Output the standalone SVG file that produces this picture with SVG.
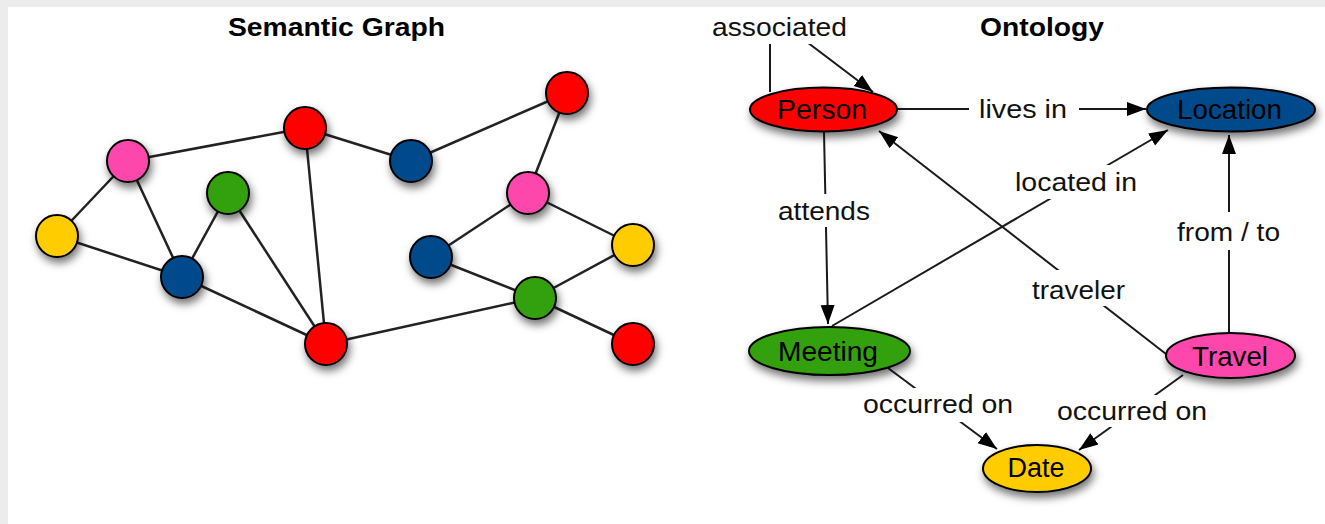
<svg xmlns="http://www.w3.org/2000/svg" width="1325" height="524" viewBox="0 0 1325 524">
<defs>
<filter id="sh" x="-50%" y="-50%" width="200%" height="200%">
<feDropShadow dx="2" dy="5" stdDeviation="4" flood-color="#000" flood-opacity="0.55"/>
</filter>
<marker id="ah" markerUnits="userSpaceOnUse" markerWidth="20" markerHeight="16" viewBox="0 0 20 16" refX="19" refY="8" orient="auto">
<path d="M0,1 L19,8 L0,15 Z" fill="#000"/>
</marker>
<style>
.e{stroke:#222;stroke-width:2.5;fill:none}
.c{stroke:#000;stroke-width:2;filter:url(#sh)}
.o{stroke:#1a1a1a;stroke-width:2;fill:none}
.a{marker-end:url(#ah)}
.t{font-family:"Liberation Sans",Arial,sans-serif;font-size:26px;fill:#111}
.n{font-family:"Liberation Sans",Arial,sans-serif;font-size:27px;fill:#000;text-anchor:middle}
.h{font-family:"Liberation Sans",Arial,sans-serif;font-size:25px;font-weight:bold;fill:#000}
.bg{fill:#fff}
</style>
</defs>
<rect x="0" y="0" width="1325" height="524" fill="#ececec"/>
<rect x="8" y="7" width="1317" height="517" fill="#fff"/>

<text class="h" x="228" y="36" textLength="217" lengthAdjust="spacingAndGlyphs">Semantic Graph</text>
<text class="h" x="980" y="36" textLength="124" lengthAdjust="spacingAndGlyphs">Ontology</text>

<!-- Semantic graph edges -->
<g id="graph-edges">
<line class="e" x1="128" y1="161" x2="57" y2="236"/>
<line class="e" x1="128" y1="161" x2="305" y2="128"/>
<line class="e" x1="128" y1="161" x2="182" y2="277"/>
<line class="e" x1="57" y1="236" x2="182" y2="277"/>
<line class="e" x1="228" y1="193" x2="182" y2="277"/>
<line class="e" x1="228" y1="193" x2="326" y2="344"/>
<line class="e" x1="182" y1="277" x2="326" y2="344"/>
<line class="e" x1="305" y1="128" x2="326" y2="344"/>
<line class="e" x1="305" y1="128" x2="411" y2="161"/>
<line class="e" x1="411" y1="161" x2="567" y2="93"/>
<line class="e" x1="567" y1="93" x2="528" y2="193"/>
<line class="e" x1="528" y1="193" x2="431" y2="257"/>
<line class="e" x1="528" y1="193" x2="633" y2="245"/>
<line class="e" x1="431" y1="257" x2="535" y2="298"/>
<line class="e" x1="633" y1="245" x2="535" y2="298"/>
<line class="e" x1="535" y1="298" x2="633" y2="344"/>
<line class="e" x1="535" y1="298" x2="326" y2="344"/>
</g>

<!-- Semantic graph nodes -->
<g id="g-pink1"><circle class="c" cx="128" cy="161" r="21" fill="#fe47ac"/></g>
<g id="g-yellow1"><circle class="c" cx="57" cy="236" r="21" fill="#ffcc00"/></g>
<g id="g-green1"><circle class="c" cx="228" cy="193" r="21" fill="#33a10f"/></g>
<g id="g-red1"><circle class="c" cx="305" cy="128" r="21" fill="#ff0000"/></g>
<g id="g-blue1"><circle class="c" cx="411" cy="161" r="21" fill="#03498a"/></g>
<g id="g-blue2"><circle class="c" cx="182" cy="277" r="21" fill="#03498a"/></g>
<g id="g-red2"><circle class="c" cx="326" cy="344" r="21" fill="#ff0000"/></g>
<g id="g-red3"><circle class="c" cx="567" cy="93" r="21" fill="#ff0000"/></g>
<g id="g-pink2"><circle class="c" cx="528" cy="193" r="21" fill="#fe47ac"/></g>
<g id="g-blue3"><circle class="c" cx="431" cy="257" r="21" fill="#03498a"/></g>
<g id="g-yellow2"><circle class="c" cx="633" cy="245" r="21" fill="#ffcc00"/></g>
<g id="g-green2"><circle class="c" cx="535" cy="298" r="21" fill="#33a10f"/></g>
<g id="g-red4"><circle class="c" cx="633" cy="344" r="21" fill="#ff0000"/></g>

<!-- Ontology connectors -->
<g id="connectors">
<path class="o a" d="M770,92 L770,28 L791,30 L873,92"/>
<line class="o a" x1="897" y1="109" x2="1146" y2="109"/>
<line class="o a" x1="824" y1="132" x2="828" y2="324"/>
<line class="o a" x1="832" y1="326" x2="1168" y2="130"/>
<line class="o a" x1="1166" y1="354" x2="879" y2="131"/>
<line class="o a" x1="1229" y1="333" x2="1229" y2="135"/>
<line class="o a" x1="888" y1="368" x2="997" y2="449"/>
<line class="o a" x1="1183" y1="375" x2="1079" y2="450"/>

<rect class="bg" x="706" y="10" width="148" height="34"/>
<text class="t" x="712" y="36" textLength="135" lengthAdjust="spacingAndGlyphs">associated</text>
<rect class="bg" x="969" y="94" width="110" height="32"/>
<text class="t" x="979" y="118" textLength="88" lengthAdjust="spacingAndGlyphs">lives in</text>
<rect class="bg" x="772" y="194" width="104" height="33"/>
<text class="t" x="778" y="220" textLength="92" lengthAdjust="spacingAndGlyphs">attends</text>
<rect class="bg" x="1009" y="165" width="134" height="34"/>
<text class="t" x="1015" y="191" textLength="122" lengthAdjust="spacingAndGlyphs">located in</text>
<rect class="bg" x="1026" y="270" width="105" height="36"/>
<text class="t" x="1032" y="299" textLength="93" lengthAdjust="spacingAndGlyphs">traveler</text>
<rect class="bg" x="1171" y="212" width="115" height="38"/>
<text class="t" x="1177" y="241" textLength="103" lengthAdjust="spacingAndGlyphs">from / to</text>
<rect class="bg" x="852" y="388" width="166" height="34"/>
<text class="t" x="863" y="413" textLength="150" lengthAdjust="spacingAndGlyphs">occurred on</text>
<rect class="bg" x="1051" y="395" width="164" height="32"/>
<text class="t" x="1057" y="420" textLength="150" lengthAdjust="spacingAndGlyphs">occurred on</text>
</g>

<!-- Ontology nodes -->
<g id="person"><ellipse class="c" cx="823.5" cy="109.5" rx="73.5" ry="22" fill="#ff0000"/><text class="n" x="822" y="119" textLength="90" lengthAdjust="spacingAndGlyphs">Person</text></g>
<g id="location"><ellipse class="c" cx="1231" cy="109.5" rx="84" ry="22" fill="#03498a"/><text class="n" x="1229.5" y="119" textLength="105" lengthAdjust="spacingAndGlyphs">Location</text></g>
<g id="meeting"><ellipse class="c" cx="829.5" cy="351" rx="80.5" ry="24" fill="#33a10f"/><text class="n" x="828" y="361" textLength="100" lengthAdjust="spacingAndGlyphs">Meeting</text></g>
<g id="travel"><ellipse class="c" cx="1230.5" cy="355.5" rx="64.5" ry="22.5" fill="#fe47ac"/><text class="n" x="1230" y="366" textLength="76" lengthAdjust="spacingAndGlyphs">Travel</text></g>
<g id="date"><ellipse class="c" cx="1037" cy="468.5" rx="54" ry="23.5" fill="#ffcc00"/><text class="n" x="1036" y="477" textLength="57" lengthAdjust="spacingAndGlyphs">Date</text></g>
</svg>
